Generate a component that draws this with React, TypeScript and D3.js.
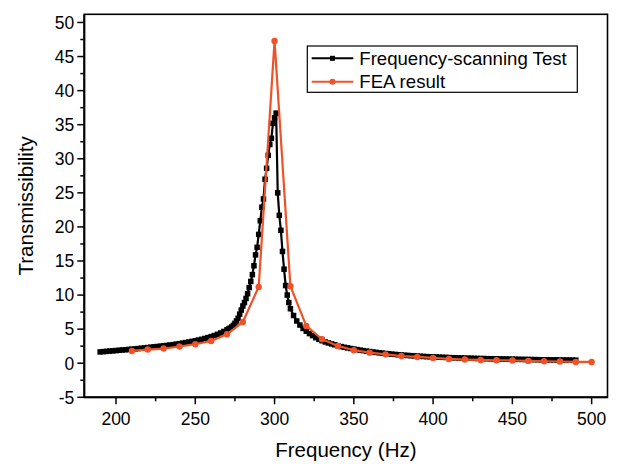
import React from "react";
import * as d3 from "d3";

// Frequency-scanning test (black, square markers)
const testFreq = [
  190, 192, 194, 196, 198, 200, 202, 204, 206, 208,
  210, 212, 214, 216, 218, 220, 222, 224, 226, 228,
  230, 232, 234, 236, 238, 240, 242, 244, 246, 248,
  250, 252, 254, 256, 258, 260, 262, 264, 266, 268,
  270, 271, 272, 273, 274, 275, 276, 277, 278, 279,
  280, 281, 282, 283, 284, 285, 286, 287, 288, 289,
  290, 291, 292, 293, 294, 295, 296, 297, 298, 299,
  300, 301, 302, 303, 304, 305, 306, 307, 308, 309,
  310, 312, 314, 316, 318, 320, 322, 324, 326, 328,
  330, 332, 334, 336, 338, 340, 342, 344, 346, 348,
  350, 352, 354, 356, 358, 360, 362, 364, 366, 368,
  370, 372, 374, 376, 378, 380, 382, 384, 386, 388,
  390, 392, 394, 396, 398, 400, 402, 404, 406, 408,
  410, 412, 414, 416, 418, 420, 422, 424, 426, 428,
  430, 432, 434, 436, 438, 440, 442, 444, 446, 448,
  450, 452, 454, 456, 458, 460, 462, 464, 466, 468,
  470, 472, 474, 476, 478, 480, 482, 484, 486, 488,
  490,
];
const testValue = [
  1.66, 1.7, 1.74, 1.78, 1.82, 1.86, 1.9, 1.94, 1.98, 2.02,
  2.06, 2.1, 2.15, 2.2, 2.25, 2.3, 2.35, 2.4, 2.45, 2.5,
  2.55, 2.61, 2.67, 2.73, 2.8, 2.87, 2.95, 3.03, 3.12, 3.21,
  3.3, 3.4, 3.51, 3.63, 3.76, 3.9, 4.06, 4.24, 4.44, 4.66,
  4.9, 5.02, 5.15, 5.32, 5.55, 5.85, 6.2, 6.6, 7.2, 7.8,
  8.4, 8.9, 9.5, 10.2, 11.1, 12.0, 13.0, 14.3, 15.9, 17.0,
  18.9, 20.9, 22.9, 24.1, 27.0, 28.6, 30.5, 32.1, 33.0, 35.2,
  36.0, 36.7, 25.0, 21.7, 19.5, 16.4, 13.8, 11.4, 10.0, 8.9,
  8.0, 7.0, 6.2, 5.6, 5.1, 4.7, 4.35, 4.05, 3.75, 3.5,
  3.3, 3.12, 2.97, 2.83, 2.7, 2.55, 2.44, 2.34, 2.25, 2.16,
  2.08, 2.0, 1.92, 1.85, 1.78, 1.71, 1.65, 1.59, 1.53, 1.48,
  1.43, 1.38, 1.33, 1.29, 1.25, 1.21, 1.17, 1.14, 1.11, 1.08,
  1.05, 1.02, 0.99, 0.97, 0.95, 0.93, 0.91, 0.89, 0.87, 0.85,
  0.83, 0.81, 0.8, 0.78, 0.77, 0.75, 0.74, 0.73, 0.71, 0.7,
  0.69, 0.68, 0.67, 0.66, 0.65, 0.64, 0.63, 0.62, 0.61, 0.6,
  0.59, 0.58, 0.57, 0.56, 0.55, 0.55, 0.54, 0.53, 0.52, 0.51,
  0.51, 0.5, 0.49, 0.49, 0.48, 0.47, 0.47, 0.46, 0.46, 0.45,
  0.45,
];

// FEA result (red, circle markers)
const feaFreq = [
  210, 220, 230, 240, 250, 260, 270, 280, 290, 300,
  310, 320, 330, 340, 350, 360, 370, 380, 390, 400,
  410, 420, 430, 440, 450, 460, 470, 480, 490, 500,
];
const feaValue = [
  1.8, 2.01, 2.15, 2.45, 2.79, 3.27, 4.25, 6.06, 11.2, 47.3,
  11.3, 5.47, 3.52, 2.54, 1.91, 1.55, 1.3, 1.05, 0.92, 0.78,
  0.63, 0.54, 0.48, 0.44, 0.4, 0.34, 0.29, 0.25, 0.19, 0.19,
];

const xTicks = [200, 250, 300, 350, 400, 450, 500];
const xMinorTicks = [225, 275, 325, 375, 425, 475];
const yTicks = [-5, 0, 5, 10, 15, 20, 25, 30, 35, 40, 45, 50];
const yMinorTicks = [-2.5, 2.5, 7.5, 12.5, 17.5, 22.5, 27.5, 32.5, 37.5, 42.5, 47.5];

const seriesNames = ["Frequency-scanning Test", "FEA result"];
const RED = "#EF5228";
const FONT = "'Liberation Sans', Arial, Helvetica, sans-serif";

export default function App() {
  const W = 618;
  const H = 464;
  const left = 84.3;
  const right = 607.5;
  const top = 14.3;
  const bottom = 397.3;

  const x = d3.scaleLinear().domain([180, 510]).range([left, right]);
  const y = d3.scaleLinear().domain([-5, 51.2]).range([bottom, top]);

  const testData = testFreq.map((f, i) => [f, testValue[i]] as [number, number]);
  const feaData = feaFreq.map((f, i) => [f, feaValue[i]] as [number, number]);

  const line = d3
    .line<[number, number]>()
    .x((d) => x(d[0]))
    .y((d) => y(d[1]));

  const sq = 5.5;

  return (
    <svg
      width={W}
      height={H}
      style={{ position: "absolute", left: 0, top: 0, background: "#fff" }}
      fontFamily={FONT}
    >
      <rect x={0} y={0} width={W} height={H} fill="#fff" />

      {/* Black series */}
      <path d={line(testData) || ""} fill="none" stroke="#000" strokeWidth={2.2} strokeLinejoin="round" />
      {testData.map((d, i) => (
        <rect key={"s" + i} x={x(d[0]) - sq / 2} y={y(d[1]) - sq / 2} width={sq} height={sq} fill="#000" />
      ))}

      {/* Red series */}
      <path d={line(feaData) || ""} fill="none" stroke={RED} strokeWidth={2.2} strokeLinejoin="round" />
      {feaData.map((d, i) => (
        <circle key={"c" + i} cx={x(d[0])} cy={y(d[1])} r={3.2} fill={RED} />
      ))}

      {/* Frame */}
      <rect x={left} y={top} width={right - left} height={bottom - top} fill="none" stroke="#000" strokeWidth={1.6} />
      <line x1={left} x2={right} y1={bottom} y2={bottom} stroke="#000" strokeWidth={2} />
      <line x1={left} x2={left} y1={top} y2={bottom} stroke="#000" strokeWidth={2} />

      {/* X ticks */}
      {xTicks.map((t) => (
        <g key={"xt" + t}>
          <line x1={x(t)} x2={x(t)} y1={bottom} y2={bottom + 7} stroke="#000" strokeWidth={1.5} />
          <text x={x(t)} y={bottom + 28} textAnchor="middle" fontSize={17.5} fill="#000">
            {t}
          </text>
        </g>
      ))}
      {xMinorTicks.map((t) => (
        <line key={"xm" + t} x1={x(t)} x2={x(t)} y1={bottom} y2={bottom + 4} stroke="#000" strokeWidth={1.5} />
      ))}

      {/* Y ticks */}
      {yTicks.map((t) => (
        <g key={"yt" + t}>
          <line x1={left - 7} x2={left} y1={y(t)} y2={y(t)} stroke="#000" strokeWidth={1.5} />
          <text x={left - 10} y={y(t)} dy="0.36em" textAnchor="end" fontSize={17.5} fill="#000">
            {t}
          </text>
        </g>
      ))}
      {yMinorTicks.map((t) => (
        <line key={"ym" + t} x1={left - 4} x2={left} y1={y(t)} y2={y(t)} stroke="#000" strokeWidth={1.5} />
      ))}

      {/* Axis titles */}
      <text x={(left + right) / 2} y={456.5} textAnchor="middle" fontSize={20.5} fill="#000">
        Frequency (Hz)
      </text>
      <text
        transform={`translate(33,${(top + bottom) / 2}) rotate(-90)`}
        textAnchor="middle"
        fontSize={20.5}
        fill="#000"
      >
        Transmissibility
      </text>

      {/* Legend */}
      <rect x={307.3} y={46} width={270} height={46.3} fill="#fff" stroke="#000" strokeWidth={1.2} />
      <line x1={311.7} x2={353.3} y1={58.3} y2={58.3} stroke="#000" strokeWidth={2} />
      <rect x={332.5 - 2.5} y={58.3 - 2.5} width={5} height={5} fill="#000" />
      <text x={359.3} y={58.3} dy="0.36em" fontSize={18.6} fill="#000">
        {seriesNames[0]}
      </text>
      <line x1={311.7} x2={353.3} y1={81.7} y2={81.7} stroke={RED} strokeWidth={2} />
      <circle cx={332.5} cy={81.7} r={3} fill={RED} />
      <text x={359.3} y={81.7} dy="0.36em" fontSize={18.6} fill="#000">
        {seriesNames[1]}
      </text>
    </svg>
  );
}
